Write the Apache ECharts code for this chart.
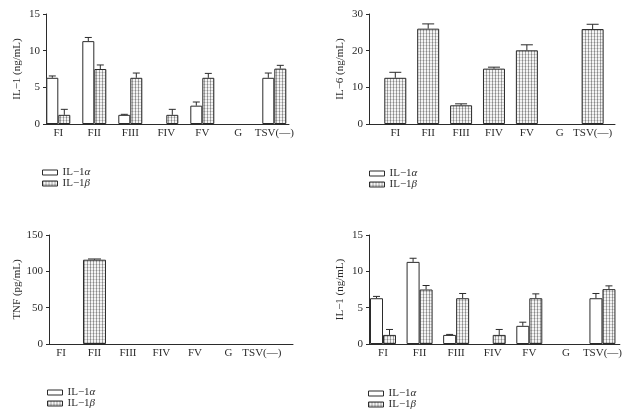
<!DOCTYPE html>
<html>
<head>
<meta charset="utf-8">
<script src="https://cdn.jsdelivr.net/npm/echarts@6/dist/echarts.min.js"></script>
<style>
  html, body { margin: 0; padding: 0; background: #fff; }
  #main { width: 625px; height: 417px; }
</style>
</head>
<body>
<div id="main"></div>
<script>
// data
var categories = ['FI', 'FII', 'FIII', 'FIV', 'FV', 'G', 'TSV(—)'];
var il1Alpha    = [6.3, 11.3, 1.25, null, 2.5, null, 6.3];
var il1AlphaErr = [6.55, 11.8, 1.32, null, 3.0, null, 6.95];
var il1Beta     = [1.25, 7.5, 6.3, 1.25, 6.3, null, 7.55];
var il1BetaErr  = [2.0, 8.05, 6.95, 2.0, 6.9, null, 8.0];
var il6         = [12.6, 26.0, 5.1, 15.1, 20.1, null, 25.9];
var il6Err      = [14.1, 27.3, 5.5, 15.5, 21.6, null, 27.2];
var tnf         = [null, 116, null, null, null, null, null];
var tnfErr      = [null, 117, null, null, null, null, null];
var legendNames = ['IL−1α', 'IL−1β'];

var FONT = '"Liberation Serif", "DejaVu Serif", serif';
var INK = '#2b2b2b';

// dotted grey fill of the hatched bars
function makeDots() {
  var c = document.createElement('canvas');
  c.width = 3; c.height = 3;
  var g = c.getContext('2d');
  g.fillStyle = '#f4f4f4'; g.fillRect(0, 0, 3, 3);
  g.fillStyle = '#a6a6a6'; g.fillRect(0, 0, 1, 3);
  g.fillStyle = '#cfcfcf'; g.fillRect(1, 0, 2, 1);
  g.fillStyle = '#888'; g.fillRect(0, 0, 1, 1);
  return c;
}
var dots = { image: makeDots(), repeat: 'repeat' };

function pairs(arr) {
  var out = [];
  arr.forEach(function (v, i) { if (v != null) out.push([i, v]); });
  return out;
}
function errPairs(vals, errs) {
  var out = [];
  vals.forEach(function (v, i) { if (v != null && errs[i] != null) out.push([i, v, errs[i]]); });
  return out;
}

var panels = [
  { left: 46, width: 243, top: 14, height: 110, min: -0.342, max: 6.408, ymax: 15, step: 5, bw: 12,
    name: 'IL−1 (ng/mL)', double: true },
  { left: 369, width: 246, top: 14, height: 110, min: -0.80, max: 6.68, ymax: 30, step: 10, bw: 22,
    name: 'IL−6 (ng/mL)', vals: il6, errs: il6Err, sname: 'IL−6' },
  { left: 49, width: 244, top: 235, height: 109, min: -0.359, max: 6.93, ymax: 150, step: 50, bw: 23,
    name: 'TNF (pg/mL)', vals: tnf, errs: tnfErr, sname: 'TNF' },
  { left: 369, width: 251, top: 235, height: 109, min: -0.383, max: 6.476, ymax: 15, step: 5, bw: 13,
    name: 'IL−1 (ng/mL)', double: true }
];
var legendPos = [[42, 167], [369, 168], [47, 387], [368, 388]];

var grids = [], xAxes = [], yAxes = [], series = [], legends = [];

function errSeries(idx, data, off, cap) {
  return {
    type: 'custom', xAxisIndex: idx, yAxisIndex: idx, z: 5, silent: true,
    data: data,
    renderItem: function (params, api) {
      var b = api.coord([api.value(0), api.value(1)]);
      var t = api.coord([api.value(0), api.value(2)]);
      var cx = b[0] + off;
      var st = { stroke: INK, lineWidth: 1 };
      return { type: 'group', children: [
        { type: 'line', shape: { x1: cx, y1: b[1], x2: cx, y2: t[1] }, style: st },
        { type: 'line', shape: { x1: cx - cap / 2, y1: t[1], x2: cx + cap / 2, y2: t[1] }, style: st }
      ]};
    }
  };
}

panels.forEach(function (p, i) {
  grids.push({ left: p.left, width: p.width, top: p.top, height: p.height });
  xAxes.push({
    type: 'value', gridIndex: i, min: p.min, max: p.max,
    axisLine: { show: true, onZero: false, lineStyle: { color: INK, width: 1 } },
    axisTick: { show: false },
    splitLine: { show: false },
    axisLabel: {
      customValues: [0, 1, 2, 3, 4, 5, 6],
      formatter: function (v) { return categories[Math.round(v)]; },
      margin: 4, color: INK, fontFamily: FONT, fontSize: 11
    }
  });
  yAxes.push({
    type: 'value', gridIndex: i, min: 0, max: p.ymax, interval: p.step,
    name: p.name, nameLocation: 'middle', nameGap: 23,
    nameTextStyle: { color: INK, fontFamily: FONT, fontSize: 11 },
    axisLine: { show: true, onZero: false, lineStyle: { color: INK, width: 1 } },
    axisTick: { show: true, length: 3, lineStyle: { color: INK } },
    splitLine: { show: false },
    axisLabel: { margin: 6, color: INK, fontFamily: FONT, fontSize: 11 }
  });
  var cap = Math.round(p.bw * 0.55);
  if (p.double) {
    series.push({
      name: legendNames[0], type: 'bar', xAxisIndex: i, yAxisIndex: i,
      barWidth: p.bw, barGap: '0%', data: pairs(il1Alpha),
      itemStyle: { color: '#fff', borderColor: INK, borderWidth: 1 }
    });
    series.push({
      name: legendNames[1], type: 'bar', xAxisIndex: i, yAxisIndex: i,
      barWidth: p.bw, barGap: '0%', data: pairs(il1Beta),
      itemStyle: { color: dots, borderColor: INK, borderWidth: 1 }
    });
    series.push(errSeries(i, errPairs(il1Alpha, il1AlphaErr), -p.bw / 2, cap));
    series.push(errSeries(i, errPairs(il1Beta, il1BetaErr), p.bw / 2, cap));
  } else {
    series.push({
      name: p.sname, type: 'bar', xAxisIndex: i, yAxisIndex: i,
      barWidth: p.bw, data: pairs(p.vals),
      itemStyle: { color: dots, borderColor: INK, borderWidth: 1 }
    });
    series.push(errSeries(i, errPairs(p.vals, p.errs), 0, cap));
  }
  legends.push({
    data: legendNames.map(function (n) { return { name: n, icon: 'rect' }; }),
    orient: 'vertical',
    left: legendPos[i][0], top: legendPos[i][1],
    itemWidth: 15, itemHeight: 5, itemGap: 0, padding: 0,
    selectedMode: false,
    itemStyle: { borderColor: INK, borderWidth: 1 },
    formatter: function (n) { return 'IL−1{g|' + n.slice(-1) + '}'; },
    textStyle: {
      color: INK, fontFamily: FONT, fontSize: 11, lineHeight: 11,
      rich: { g: { fontStyle: 'italic', fontFamily: FONT, fontSize: 11, color: INK } }
    }
  });
});

var chart = echarts.init(document.getElementById('main'));
chart.setOption({
  animation: false,
  backgroundColor: '#fff',
  grid: grids,
  xAxis: xAxes,
  yAxis: yAxes,
  legend: legends,
  series: series
});
</script>
</body>
</html>
